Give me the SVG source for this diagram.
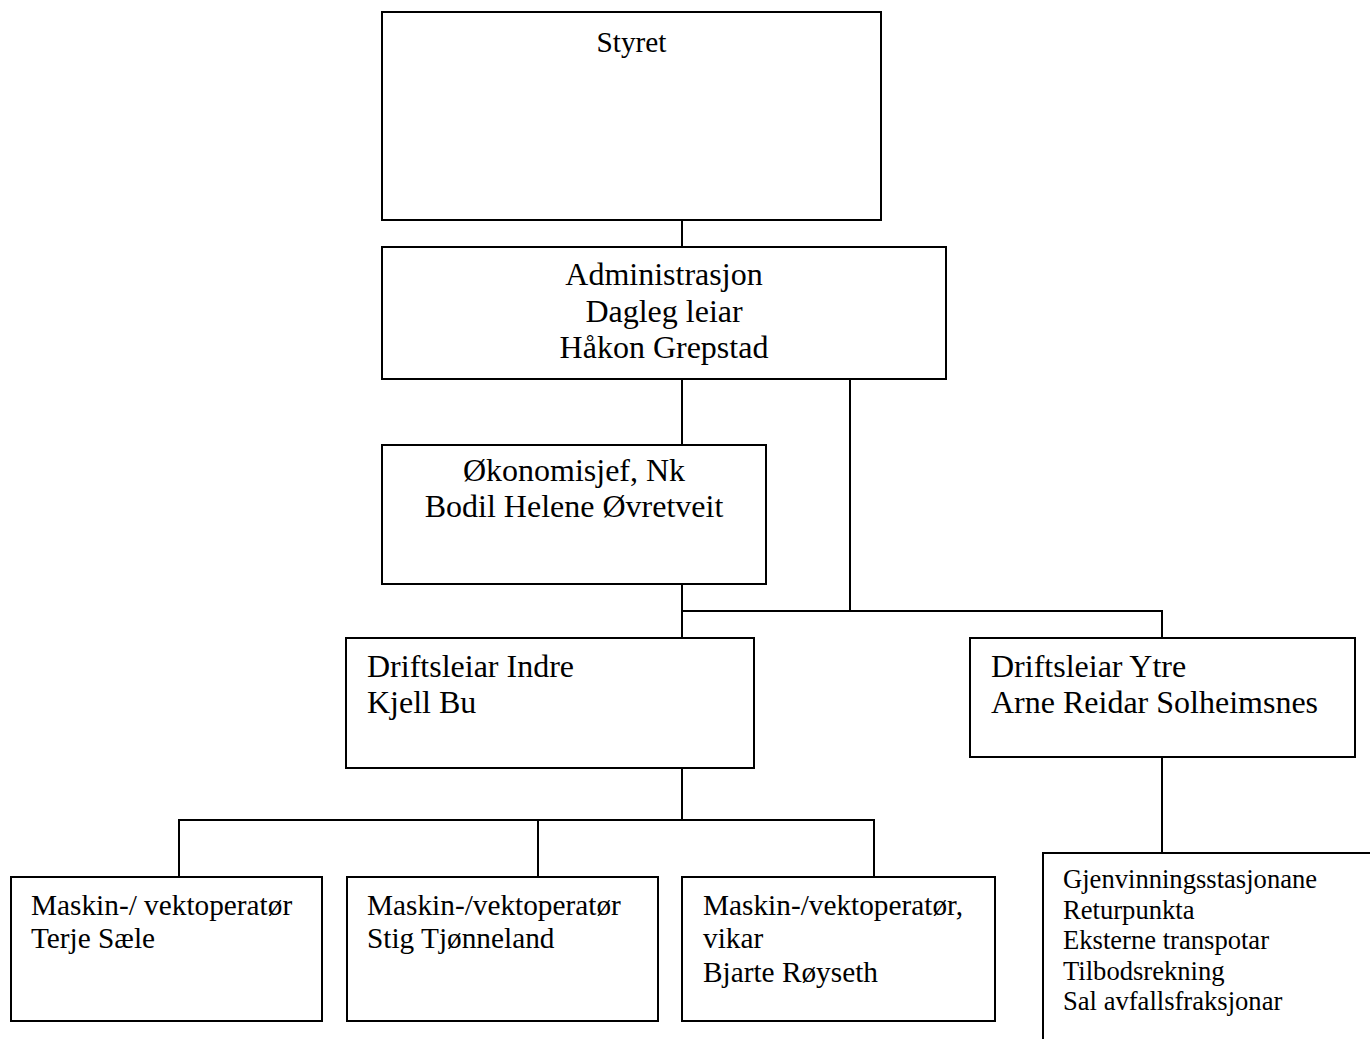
<svg xmlns="http://www.w3.org/2000/svg" width="1370" height="1039" viewBox="0 0 1370 1039">
<style>
.box{fill:#fff;stroke:#000;stroke-width:2}
.ln{fill:none;stroke:#000;stroke-width:2}
text{font-family:"Liberation Serif","Times New Roman",serif;fill:#000}
.t32{font-size:32px}
.t29{font-size:29.3px}
.t26{font-size:26.6px}
.c{text-anchor:middle}
</style>
<rect width="1370" height="1039" fill="#fff"/>
<g id="connectors">
<path class="ln" d="M682,220V247"/>
<path class="ln" d="M682,379V445"/>
<path class="ln" d="M850,379V611"/>
<path class="ln" d="M682,584V638"/>
<path class="ln" d="M682,611H1162V638"/>
<path class="ln" d="M682,768V820"/>
<path class="ln" d="M179,877V820H874V877"/>
<path class="ln" d="M538,820V877"/>
<path class="ln" d="M1162,757V853"/>
</g>
<g id="styret">
<rect class="box" x="382" y="12" width="499" height="208"/>
<text class="t29 c" x="631.5" y="52">Styret</text>
</g>
<g id="administrasjon">
<rect class="box" x="382" y="247" width="564" height="132"/>
<text class="t32 c" x="664" y="285">Administrasjon</text>
<text class="t32 c" x="664" y="322">Dagleg leiar</text>
<text class="t32 c" x="664" y="358">Håkon Grepstad</text>
</g>
<g id="okonomi">
<rect class="box" x="382" y="445" width="384" height="139"/>
<text class="t32 c" x="574" y="481">Økonomisjef, Nk</text>
<text class="t32 c" x="574" y="517">Bodil Helene Øvretveit</text>
</g>
<g id="indre">
<rect class="box" x="346" y="638" width="408" height="130"/>
<text class="t32" x="367" y="677">Driftsleiar Indre</text>
<text class="t32" x="367" y="713">Kjell Bu</text>
</g>
<g id="ytre">
<rect class="box" x="970" y="638" width="385" height="119"/>
<text class="t32" x="991" y="677">Driftsleiar Ytre</text>
<text class="t32" x="991" y="713">Arne Reidar Solheimsnes</text>
</g>
<g id="op1">
<rect class="box" x="11" y="877" width="311" height="144"/>
<text class="t29" x="31" y="915">Maskin-/ vektoperatør</text>
<text class="t29" x="31" y="948">Terje Sæle</text>
</g>
<g id="op2">
<rect class="box" x="347" y="877" width="311" height="144"/>
<text class="t29" x="367" y="915">Maskin-/vektoperatør</text>
<text class="t29" x="367" y="948">Stig Tjønneland</text>
</g>
<g id="op3">
<rect class="box" x="682" y="877" width="313" height="144"/>
<text class="t29" x="703" y="915">Maskin-/vektoperatør,</text>
<text class="t29" x="703" y="948">vikar</text>
<text class="t29" x="703" y="982">Bjarte Røyseth</text>
</g>
<g id="oppgaver">
<rect class="box" x="1043" y="853" width="340" height="200"/>
<text class="t26" x="1063" y="888">Gjenvinningsstasjonane</text>
<text class="t26" x="1063" y="919">Returpunkta</text>
<text class="t26" x="1063" y="949">Eksterne transpotar</text>
<text class="t26" x="1063" y="980">Tilbodsrekning</text>
<text class="t26" x="1063" y="1010">Sal avfallsfraksjonar</text>
</g>
</svg>
